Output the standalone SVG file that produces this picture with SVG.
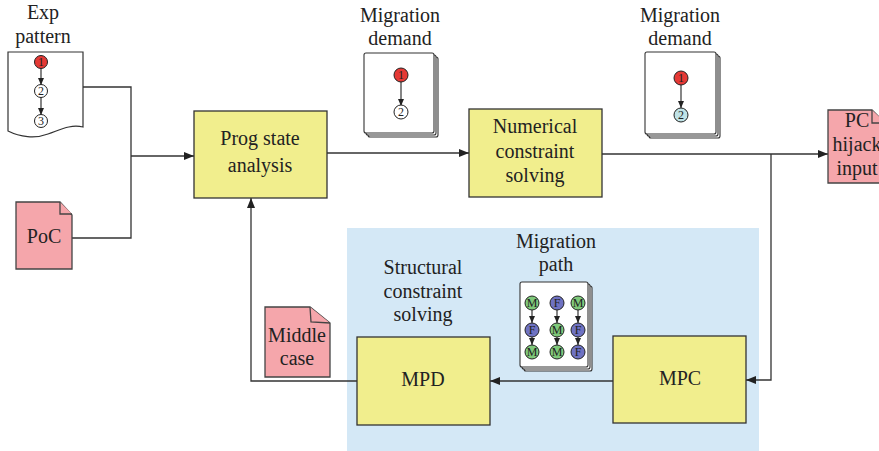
<svg xmlns="http://www.w3.org/2000/svg" width="879" height="451" viewBox="0 0 879 451" font-family="'Liberation Serif', 'DejaVu Serif', serif">
  <defs>
    <marker id="arrow" markerWidth="10" markerHeight="8" refX="10" refY="4" orient="auto" markerUnits="userSpaceOnUse">
      <path d="M0,0 L10,4 L0,8 Z" fill="#222"/>
    </marker>
    <marker id="arrowSmall" markerWidth="7" markerHeight="6" refX="7" refY="3" orient="auto" markerUnits="userSpaceOnUse">
      <path d="M0,0 L7,3 L0,6 Z" fill="#222"/>
    </marker>
  </defs>
  <style>
    text { font-family: 'Liberation Serif', 'DejaVu Serif', serif; fill: #222; }
    .lbl { font-size: 20px; text-anchor: middle; }
    .num { font-size: 12px; text-anchor: middle; }
    .box { fill: #f1ee8d; stroke: #333; stroke-width: 1.3; }
    .doc { fill: #f5a6ab; stroke: #444; stroke-width: 1.3; }
    .sheet { fill: #fff; stroke: #333; stroke-width: 1.1; }
    .conn { fill: none; stroke: #333; stroke-width: 1.3; }
    .edge { fill: none; stroke: #222; stroke-width: 1.1; }
    .red { fill: #e53935; stroke: #222; stroke-width: 1; }
    .white { fill: #fff; stroke: #222; stroke-width: 1; }
    .cyan { fill: #bfe2e6; stroke: #222; stroke-width: 1; }
    .m { fill: #7fc97a; stroke: #222; stroke-width: 1; }
    .f { fill: #6f72c2; stroke: #222; stroke-width: 1; }
  </style>

  <!-- shaded region for structural constraint solving -->
  <rect id="structural-region" x="347" y="228" width="412" height="223" fill="#d4e8f6"/>

  <!-- connectors -->
  <g id="connectors">
    <polyline class="conn" points="83,87 131,87 131,238 72,238"/>
    <line class="conn" x1="131" y1="156" x2="194" y2="156" marker-end="url(#arrow)"/>
    <line class="conn" x1="327" y1="153" x2="469" y2="153" marker-end="url(#arrow)"/>
    <line class="conn" x1="602" y1="154" x2="828" y2="154" marker-end="url(#arrow)"/>
    <polyline class="conn" points="771,154 771,380 746,380" marker-end="url(#arrow)"/>
    <line class="conn" x1="613" y1="381" x2="490" y2="381" marker-end="url(#arrow)"/>
    <polyline class="conn" points="357,381 251,381 251,198" marker-end="url(#arrow)"/>
  </g>

  <!-- Exp pattern -->
  <g id="exp-pattern">
    <text class="lbl" x="43" y="19">Exp</text>
    <text class="lbl" x="43" y="43">pattern</text>
    <path d="M8,52 H83 V127 C70,124 60,130 48,134 C35,139 20,137 8,131 Z" fill="#fff" stroke="#333" stroke-width="1.2"/>
    <line class="edge" x1="41" y1="68" x2="41" y2="85" marker-end="url(#arrowSmall)"/>
    <line class="edge" x1="41" y1="97" x2="41" y2="115" marker-end="url(#arrowSmall)"/>
    <circle class="red" cx="41" cy="62" r="6.5"/>
    <text class="num" x="41" y="66">1</text>
    <circle class="white" cx="41" cy="91" r="6.5"/>
    <text class="num" x="41" y="95">2</text>
    <circle class="white" cx="41" cy="121" r="6.5"/>
    <text class="num" x="41" y="125">3</text>
  </g>

  <!-- PoC -->
  <g id="poc">
    <path class="doc" d="M16,202 H60 L72,215 V269 H16 Z"/>
    <path class="doc" d="M60,202 V214 H72" fill="none"/>
    <text class="lbl" x="44" y="243">PoC</text>
  </g>

  <!-- Prog state analysis -->
  <g id="prog-state">
    <rect class="box" x="194" y="111" width="133" height="87"/>
    <text class="lbl" x="260" y="145">Prog state</text>
    <text class="lbl" x="260" y="172">analysis</text>
  </g>

  <!-- Migration demand (before solving) -->
  <g id="migration-demand-1">
    <text class="lbl" x="400" y="22">Migration</text>
    <text class="lbl" x="400" y="45">demand</text>
    <rect class="sheet" x="368" y="57" width="70" height="80" rx="2"/>
    <rect class="sheet" x="366" y="55" width="70" height="80" rx="2"/>
    <rect class="sheet" x="364" y="53" width="70" height="80" rx="2"/>
    <line class="edge" x1="401" y1="81" x2="401" y2="106" marker-end="url(#arrowSmall)"/>
    <circle class="red" cx="401" cy="75" r="7"/>
    <text class="num" x="401" y="79">1</text>
    <circle class="white" cx="401" cy="112" r="7"/>
    <text class="num" x="401" y="116">2</text>
  </g>

  <!-- Numerical constraint solving -->
  <g id="numerical">
    <rect class="box" x="469" y="109" width="133" height="88"/>
    <text class="lbl" x="535" y="133">Numerical</text>
    <text class="lbl" x="535" y="158">constraint</text>
    <text class="lbl" x="535" y="182">solving</text>
  </g>

  <!-- Migration demand (after solving) -->
  <g id="migration-demand-2">
    <text class="lbl" x="680" y="22">Migration</text>
    <text class="lbl" x="680" y="45">demand</text>
    <rect class="sheet" x="649" y="56" width="71" height="82" rx="2"/>
    <rect class="sheet" x="647" y="54" width="71" height="82" rx="2"/>
    <rect class="sheet" x="645" y="52" width="71" height="82" rx="2"/>
    <line class="edge" x1="681" y1="84" x2="681" y2="108" marker-end="url(#arrowSmall)"/>
    <circle class="red" cx="681" cy="78" r="7"/>
    <text class="num" x="681" y="82">1</text>
    <circle class="cyan" cx="681" cy="115" r="7"/>
    <text class="num" x="681" y="119">2</text>
  </g>

  <!-- PC hijack input -->
  <g id="pc-hijack">
    <path class="doc" d="M828,110 H872 L886,124 V183 H828 Z"/>
    <path class="doc" d="M872,110 V123 H886" fill="none"/>
    <text class="lbl" x="857" y="127">PC</text>
    <text class="lbl" x="857" y="151">hijack</text>
    <text class="lbl" x="857" y="175">input</text>
  </g>

  <!-- Structural constraint solving label -->
  <g id="structural-label">
    <text class="lbl" x="423" y="274">Structural</text>
    <text class="lbl" x="423" y="298">constraint</text>
    <text class="lbl" x="423" y="321">solving</text>
  </g>

  <!-- Migration path -->
  <g id="migration-path">
    <text class="lbl" x="556" y="248">Migration</text>
    <text class="lbl" x="556" y="271">path</text>
    <rect class="sheet" x="524" y="286" width="68" height="85" rx="2"/>
    <rect class="sheet" x="522" y="284" width="68" height="85" rx="2"/>
    <rect class="sheet" x="520" y="282" width="68" height="85" rx="2"/>
    <g>
      <line class="edge" x1="532" y1="310" x2="532" y2="323" marker-end="url(#arrowSmall)"/>
      <line class="edge" x1="532" y1="337" x2="532" y2="345" marker-end="url(#arrowSmall)"/>
      <line class="edge" x1="557" y1="310" x2="557" y2="323" marker-end="url(#arrowSmall)"/>
      <line class="edge" x1="557" y1="337" x2="557" y2="345" marker-end="url(#arrowSmall)"/>
      <line class="edge" x1="578" y1="310" x2="578" y2="323" marker-end="url(#arrowSmall)"/>
      <line class="edge" x1="578" y1="337" x2="578" y2="345" marker-end="url(#arrowSmall)"/>
    </g>
    <circle class="m" cx="532" cy="303" r="7"/><text class="num" x="532" y="307">M</text>
    <circle class="f" cx="532" cy="330" r="7"/><text class="num" x="532" y="334">F</text>
    <circle class="m" cx="532" cy="352" r="7"/><text class="num" x="532" y="356">M</text>
    <circle class="f" cx="557" cy="303" r="7"/><text class="num" x="557" y="307">F</text>
    <circle class="m" cx="557" cy="330" r="7"/><text class="num" x="557" y="334">M</text>
    <circle class="m" cx="557" cy="352" r="7"/><text class="num" x="557" y="356">M</text>
    <circle class="m" cx="578" cy="303" r="7"/><text class="num" x="578" y="307">M</text>
    <circle class="f" cx="578" cy="330" r="7"/><text class="num" x="578" y="334">F</text>
    <circle class="f" cx="578" cy="352" r="7"/><text class="num" x="578" y="356">F</text>
  </g>

  <!-- Middle case -->
  <g id="middle-case">
    <path class="doc" d="M265,307 H310 L330,323 V377 H265 Z"/>
    <path class="doc" d="M310,307 L311,322 L330,323" fill="none"/>
    <text class="lbl" x="297" y="342">Middle</text>
    <text class="lbl" x="297" y="365">case</text>
  </g>

  <!-- MPD -->
  <g id="mpd">
    <rect class="box" x="357" y="337" width="133" height="88"/>
    <text class="lbl" x="423" y="386">MPD</text>
  </g>

  <!-- MPC -->
  <g id="mpc">
    <rect class="box" x="613" y="336" width="133" height="87"/>
    <text class="lbl" x="680" y="385">MPC</text>
  </g>
</svg>
